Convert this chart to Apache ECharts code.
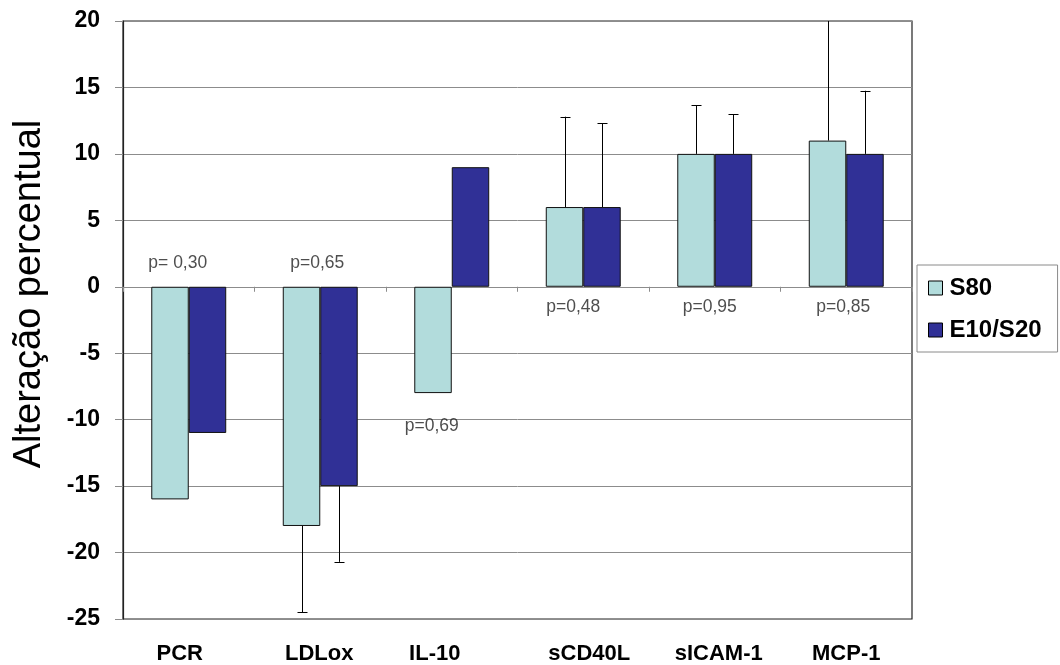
<!DOCTYPE html>
<html>
<head>
<meta charset="utf-8">
<script src="https://cdn.jsdelivr.net/npm/echarts@6/dist/echarts.min.js"></script>
<style>
  html, body { margin: 0; padding: 0; background: #fff; }
  #chart { width: 1060px; height: 665px; }
</style>
</head>
<body>
<div id="chart"></div>
<script>
// Categories (markers) and percentage change per group
const categories = ['PCR', 'LDLox', 'IL-10', 'sCD40L', 'sICAM-1', 'MCP-1'];
const seriesNames = ['S80', 'E10/S20'];
const s80 = [-16, -18, -8, 6, 10, 11];
const e10s20 = [-11, -15, 9, 6, 10, 10];
// One-sided error bar lengths (null = not drawn)
const s80Err = [null, 6.5, null, 6.8, 3.65, 10];
const e10s20Err = [null, 5.7, null, 6.3, 3.0, 4.75];
// p-value annotations: category index, level on the value axis, text
const pCats = [0, 1, 2, 3, 4, 5];
const pLevels = [1.8, 1.8, -10.5, -1.5, -1.5, -1.5];
const pTexts = ['p= 0,30', 'p=0,65', 'p=0,69', 'p=0,48', 'p=0,95', 'p=0,85'];
// Value axis ticks
const yMin = -25, yMax = 20, yStep = 5;
const yTitle = 'Alteração percentual';

const FONT = "'Liberation Sans', Arial, sans-serif";
const GAP = 0.43; // barCategoryGap fraction
const pOffsets = [-11, -3, -20, -10, -5, -3];
// small horizontal nudges of the category labels (px, negative = left)
const catNudge = [-9, -1, -17, 6, 4, 0];

const errData = [];
s80.forEach((v, i) => { if (s80Err[i] != null) errData.push([i, v, s80Err[i], -1]); });
e10s20.forEach((v, i) => { if (e10s20Err[i] != null) errData.push([i, v, e10s20Err[i], 1]); });

const labelRich = {};
catNudge.forEach((n, i) => {
  labelRich['c' + i] = {
    fontFamily: FONT, fontSize: 22, fontWeight: 'bold', color: '#000',
    padding: n < 0 ? [0, -2 * n, 0, 0] : [0, 0, 0, 2 * n]
  };
});

const chart = echarts.init(document.getElementById('chart'), null, { renderer: 'canvas' });

const grid = { left: 123, top: 21, right: 148, bottom: 46 };

chart.setOption({
  animation: false,
  backgroundColor: '#fff',
  textStyle: { fontFamily: FONT },
  grid: [
    Object.assign({ show: true, borderColor: '#222', borderWidth: 1.2, backgroundColor: '#fff' }, grid),
    Object.assign({ show: false }, grid)
  ],
  graphic: [
    {
      type: 'text',
      x: 30,
      y: 294,
      rotation: Math.PI / 2,
      style: {
        text: yTitle,
        fontFamily: FONT,
        fontSize: 38,
        fill: '#000',
        align: 'center',
        verticalAlign: 'middle'
      }
    }
  ],
  legend: {
    data: seriesNames,
    orient: 'vertical',
    left: 917,
    top: 265,
    padding: [11, 16, 10, 11],
    itemGap: 18,
    itemWidth: 14,
    itemHeight: 14,
    icon: 'rect',
    borderColor: '#8a8a8a',
    borderWidth: 1,
    backgroundColor: '#fff',
    textStyle: { fontFamily: FONT, fontSize: 24, fontWeight: 'bold', color: '#000', padding: [0, 0, 0, 2] },
    itemStyle: { borderColor: '#000', borderWidth: 1 }
  },
  xAxis: [
    {
      type: 'category',
      gridIndex: 0,
      data: categories,
      position: 'bottom',
      axisLine: { show: false, onZero: false },
      axisTick: { show: false },
      axisLabel: {
        margin: 24,
        formatter: (v, i) => '{c' + i + '|' + v + '}',
        rich: labelRich
      },
      splitLine: { show: false }
    },
    {
      type: 'category',
      gridIndex: 1,
      data: categories,
      position: 'bottom',
      axisLine: { show: true, onZero: true, lineStyle: { color: '#8c8c8c', width: 1 } },
      axisTick: { show: true, length: 5, lineStyle: { color: '#8c8c8c' } },
      axisLabel: { show: false },
      splitLine: { show: false }
    }
  ],
  yAxis: [
    {
      type: 'value',
      gridIndex: 0,
      min: yMin,
      max: yMax,
      interval: yStep,
      axisLine: { show: true, lineStyle: { color: '#222', width: 1.2 } },
      axisTick: { show: true, length: 8, lineStyle: { color: '#8c8c8c' } },
      axisLabel: { fontFamily: FONT, fontSize: 23, fontWeight: 'bold', color: '#000', margin: 23 },
      splitLine: { show: true, lineStyle: { color: '#8c8c8c', width: 1 } }
    },
    {
      type: 'value',
      gridIndex: 1,
      min: yMin,
      max: yMax,
      interval: yStep,
      show: false
    }
  ],
  series: [
    {
      name: seriesNames[0],
      type: 'bar',
      xAxisIndex: 0,
      yAxisIndex: 0,
      data: s80,
      barGap: '0%',
      barCategoryGap: (GAP * 100) + '%',
      itemStyle: { color: '#B2DCDC', borderColor: '#111', borderWidth: 1 },
      z: 3
    },
    {
      name: seriesNames[1],
      type: 'bar',
      xAxisIndex: 0,
      yAxisIndex: 0,
      data: e10s20,
      barGap: '0%',
      barCategoryGap: (GAP * 100) + '%',
      itemStyle: { color: '#303096', borderColor: '#111', borderWidth: 1 },
      z: 3
    },
    {
      type: 'custom',
      xAxisIndex: 0,
      yAxisIndex: 0,
      clip: true,
      z: 4,
      silent: true,
      data: errData,
      renderItem(params, api) {
        const cat = api.value(0), val = api.value(1), err = api.value(2), side = api.value(3);
        const band = api.size([1, 0])[0];
        const barW = band * (1 - GAP) / 2;
        const base = api.coord([cat, val]);
        const x = Math.round(base[0] + side * barW / 2) + 0.5;
        const end = val + Math.sign(val) * err;
        const y1 = api.coord([cat, end])[1];
        const cap = 5;
        const style = { stroke: '#000', lineWidth: 1 };
        return {
          type: 'group',
          children: [
            { type: 'line', shape: { x1: x, y1: base[1], x2: x, y2: y1 }, style },
            { type: 'line', shape: { x1: x - cap, y1: Math.round(y1) + 0.5, x2: x + cap, y2: Math.round(y1) + 0.5 }, style }
          ]
        };
      }
    },
    {
      type: 'scatter',
      xAxisIndex: 0,
      yAxisIndex: 0,
      symbolSize: 0,
      silent: true,
      z: 5,
      data: pCats.map((c, i) => ({
        value: [c, pLevels[i]],
        label: {
          show: true,
          position: 'inside',
          formatter: pTexts[i],
          offset: [pOffsets[i], 0],
          fontFamily: FONT,
          fontSize: 17.5,
          color: '#222'
        }
      }))
    }
  ]
});
</script>
</body>
</html>
